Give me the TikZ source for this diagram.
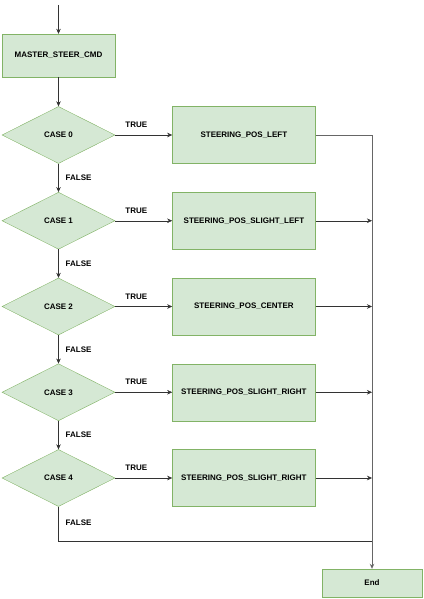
\documentclass[tikz,border=0pt]{standalone}
\usepackage{fontspec}
\setmainfont{Liberation Sans}
\usepackage{tikz}
\usetikzlibrary{arrows.meta,shapes.geometric,positioning}
\definecolor{fillgreen}{HTML}{D5E8D4}
\definecolor{drawgreen}{HTML}{82B366}

\begin{document}
\begin{tikzpicture}[x=1pt,y=-1pt,
        box/.style={draw=drawgreen, fill=fillgreen, minimum width=143pt, minimum height=57pt,
            inner sep=0pt, font=\fontsize{8}{9}\selectfont\bfseries},
        cond/.style={diamond, aspect=2, draw=drawgreen, fill=fillgreen, minimum width=113pt,
            minimum height=57pt, inner sep=0pt, font=\fontsize{8}{9}\selectfont\bfseries},
        flow/.style={draw=black!80, -{Stealth[length=5pt,width=4.5pt]}},
        lbl/.style={inner sep=0pt, font=\fontsize{8}{9}\selectfont\bfseries}]
        \useasboundingbox (0,0) rectangle (423,599);
        %start and first step
        \coordinate (start) at (58.5,5);
        \node[box, minimum width=113pt, minimum height=43pt] (master) at (58.5,55.5) {MASTER\_STEER\_CMD};
        \draw[flow] (start) -- (master);
        %cases
        \foreach \i/\name in {0/STEERING\_POS\_LEFT, 1/STEERING\_POS\_SLIGHT\_LEFT,
            2/STEERING\_POS\_CENTER, 3/STEERING\_POS\_SLIGHT\_RIGHT, 4/STEERING\_POS\_SLIGHT\_RIGHT}{
            \node[cond] (c\i) at (58.5,135+85.75*\i) {CASE \i};
            \node[box, right=57pt of c\i] (s\i) {\name};
            \draw[flow] (c\i) -- node[lbl, above=7pt, pos=0.37] {TRUE} (s\i);
        }
        \draw[flow] (master) -- (c0);
        \foreach \i/\j in {0/1, 1/2, 2/3, 3/4}
            \draw[flow] (c\i) -- node[lbl, right=7pt] {FALSE} (c\j);
        %end
        \node[box, minimum width=100pt, minimum height=28pt] (end) at (372,583) {End};
        \coordinate (merge) at (372,541);
        \draw[draw=black!60, line width=1pt, -{Stealth[length=5pt,width=4.5pt]}] (s0.east) -| (end.north);
        \foreach \i in {1,...,4}
            \draw[flow] (s\i.east) -- (s\i.east -| merge);
        \draw[draw=black!80] (c4.south) |- node[lbl, right=7pt, pos=0.24] {FALSE} (merge);
    \end{tikzpicture}
\end{document}
